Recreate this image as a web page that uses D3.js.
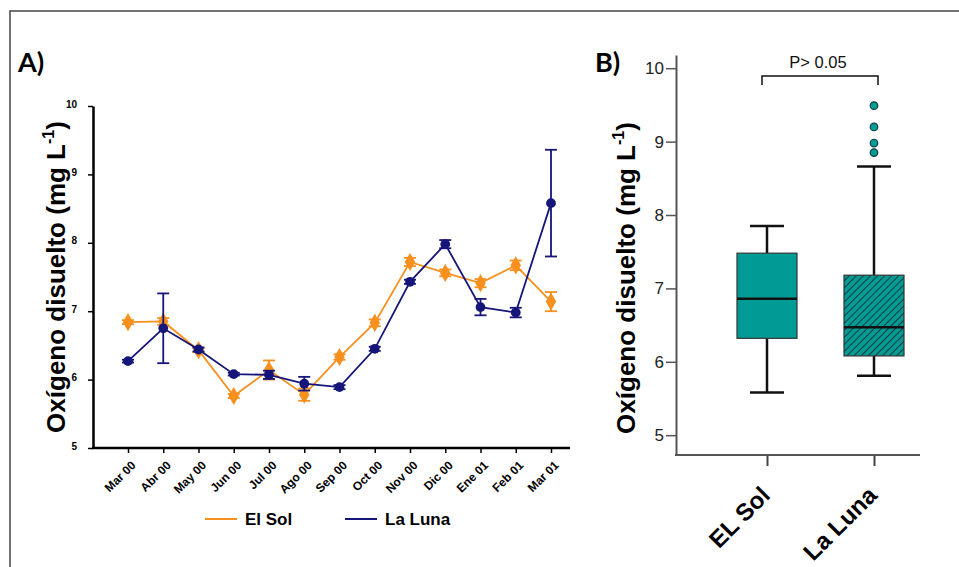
<!DOCTYPE html>
<html>
  <head>
    <meta charset="utf-8">
    <title>Oxígeno disuelto</title>
    <script src="https://d3js.org/d3.v7.min.js"></script>
    <style>
      body { margin: 0; background: #fff; }
      text { font-family: "Liberation Sans", Arial, sans-serif; }
    </style>
  </head>
  <body>
    <script type="text/javascript">
      // panel A data
      var months = ['Mar 00', 'Abr 00', 'May 00', 'Jun 00', 'Jul 00', 'Ago 00', 'Sep 00',
                    'Oct 00', 'Nov 00', 'Dic 00', 'Ene 01', 'Feb 01', 'Mar 01'];
      var solMean = [6.84, 6.85, 6.43, 5.76, 6.14, 5.78, 6.33, 6.83, 7.72, 7.56, 7.41, 7.67, 7.14];
      var solErr  = [0.03, 0.05, 0.03, 0.03, 0.14, 0.09, 0.04, 0.05, 0.06, 0.05, 0.06, 0.07, 0.14];
      var lunaMean = [6.27, 6.75, 6.44, 6.08, 6.07, 5.94, 5.89, 6.45, 7.43, 7.98, 7.06, 6.98, 8.58];
      var lunaErr  = [0.02, 0.51, 0.03, 0.02, 0.06, 0.10, 0.03, 0.03, 0.03, 0.06, 0.12, 0.07, 0.78];
      var yTicksA = [5, 6, 7, 8, 9, 10];

      // panel B data
      var sites = ['EL Sol', 'La Luna'];
      var q1 = [6.32, 6.08];
      var median = [6.86, 6.47];
      var q3 = [7.48, 7.18];
      var whiskLo = [5.58, 5.81];
      var whiskHi = [7.85, 8.66];
      var outliers = [[], [9.49, 9.20, 8.98, 8.85]];
      var yTicksB = [5, 6, 7, 8, 9, 10];

      var orange = '#f7901e', navy = '#15157a', teal = '#009b94';

      var svg = d3.select('body').append('svg')
                  .attr('width', 959)
                  .attr('height', 567);

      // frame
      svg.append('path')
         .attr('d', 'M10,567 V11 H959')
         .attr('fill', 'none')
         .attr('stroke', '#444')
         .attr('stroke-width', 1.5);

      svg.append('text').attr('x', 18).attr('y', 72)
         .style('font-family', 'Lato, sans-serif')
         .attr('font-weight', 'bold').attr('font-size', 27).text('A)');
      svg.append('text').attr('x', 595).attr('y', 72)
         .style('font-family', 'Lato, sans-serif')
         .attr('font-weight', 'bold').attr('font-size', 27).text('B)');

      function yTitle(g, x, y) {
        g.append('text')
          .attr('transform', 'translate(' + x + ',' + y + ') rotate(-90)')
          .attr('text-anchor', 'middle')
          .attr('font-weight', 'bold').attr('font-size', 26)
          .call(function (t) {
            t.append('tspan').text('Oxígeno disuelto (mg L');
            t.append('tspan').attr('dy', -11).attr('font-size', 16).text('-1');
            t.append('tspan').attr('dy', 11).text(')');
          });
      }

      // ---------- panel A ----------
      var xA = d3.scalePoint().domain(months).range([128, 551]);
      var yA = d3.scaleLinear().domain([5, 10]).range([448, 106]);

      var gA = svg.append('g');

      var yAxA = gA.append('g')
         .attr('transform', 'translate(93,0)')
         .call(d3.axisLeft(yA).tickValues(yTicksA).tickFormat(d3.format('d'))
                 .tickSize(5).tickSizeOuter(0));
      yAxA.select('.domain').attr('stroke-width', 2.5);
      yAxA.selectAll('.tick line').attr('stroke-width', 1.5);
      yAxA.selectAll('.tick text').attr('font-weight', 'bold').attr('font-size', 10)
          .attr('x', -16).attr('dy', '0.1em');

      var xAxA = gA.append('g')
         .attr('transform', 'translate(0,448)')
         .call(d3.axisBottom(xA).tickSize(5).tickSizeOuter(0));
      xAxA.select('.domain').remove();
      xAxA.selectAll('.tick line').attr('stroke-width', 1.5);
      xAxA.selectAll('.tick text')
          .attr('font-weight', 'bold').attr('font-size', 12)
          .attr('x', 0).attr('y', 0).attr('dy', '0.35em')
          .attr('text-anchor', 'end')
          .attr('transform', 'translate(5,15) rotate(-45)');
      gA.append('line')
        .attr('x1', 92).attr('x2', 570)
        .attr('y1', 448).attr('y2', 448)
        .attr('stroke', '#000').attr('stroke-width', 2.5);

      function drawSeries(means, errs, color, symbol, size) {
        var pts = means.map(function (m, i) { return { m: m, e: errs[i], k: months[i] }; });
        var line = d3.line()
                     .x(function (d) { return xA(d.k); })
                     .y(function (d) { return yA(d.m); });
        gA.append('path').datum(pts)
          .attr('d', line).attr('fill', 'none')
          .attr('stroke', color).attr('stroke-width', 1.8);
        var eb = gA.append('g').selectAll('g').data(pts).enter().append('g')
                   .attr('stroke', color).attr('stroke-width', 1.8);
        eb.append('line')
          .attr('x1', function (d) { return xA(d.k); })
          .attr('x2', function (d) { return xA(d.k); })
          .attr('y1', function (d) { return yA(d.m - d.e); })
          .attr('y2', function (d) { return yA(d.m + d.e); });
        [-1, 1].forEach(function (s) {
          eb.append('line')
            .attr('x1', function (d) { return xA(d.k) - 6; })
            .attr('x2', function (d) { return xA(d.k) + 6; })
            .attr('y1', function (d) { return yA(d.m + s * d.e); })
            .attr('y2', function (d) { return yA(d.m + s * d.e); });
        });
        gA.append('g').selectAll('path').data(pts).enter().append('path')
          .attr('d', d3.symbol().type(symbol).size(size))
          .attr('transform', function (d) { return 'translate(' + xA(d.k) + ',' + yA(d.m) + ')'; })
          .attr('fill', color);
      }
      drawSeries(solMean, solErr, orange, d3.symbolDiamond, 95);
      drawSeries(lunaMean, lunaErr, navy, d3.symbolCircle, 75);

      yTitle(gA, 65, 277);

      // legend
      var leg = [{ name: 'El Sol', color: orange, x: 205 }, { name: 'La Luna', color: navy, x: 345 }];
      leg.forEach(function (l) {
        gA.append('line').attr('x1', l.x).attr('x2', l.x + 32)
          .attr('y1', 519).attr('y2', 519)
          .attr('stroke', l.color).attr('stroke-width', 2);
        gA.append('text').attr('x', l.x + 40).attr('y', 525)
          .attr('font-weight', 'bold').attr('font-size', 17).text(l.name);
      });

      // ---------- panel B ----------
      var defs = svg.append('defs');
      var pat = defs.append('pattern')
         .attr('id', 'hatch').attr('patternUnits', 'userSpaceOnUse')
         .attr('width', 5).attr('height', 5)
         .attr('patternTransform', 'rotate(45)');
      pat.append('rect').attr('width', 5).attr('height', 5).attr('fill', teal);
      pat.append('line').attr('x1', 0).attr('x2', 0).attr('y1', 0).attr('y2', 5)
         .attr('stroke', '#0d3b3a').attr('stroke-width', 2);

      var xB = d3.scalePoint().domain(sites).range([767, 874]);
      var yB = d3.scaleLinear().domain([4.73, 10.18]).range([455, 55]);
      var gB = svg.append('g');

      var yAxB = gB.append('g')
         .attr('transform', 'translate(676,0)')
         .call(d3.axisLeft(yB).tickValues(yTicksB).tickFormat(d3.format('d'))
                 .tickSize(10).tickSizeOuter(0));
      yAxB.select('.domain').attr('stroke', '#555').attr('stroke-width', 2);
      yAxB.selectAll('.tick line').attr('stroke', '#555').attr('stroke-width', 1.5);
      yAxB.selectAll('.tick text').attr('font-size', 17).attr('fill', '#222').attr('x', -12);

      var xAxB = gB.append('g')
         .attr('transform', 'translate(0,455)')
         .call(d3.axisBottom(xB).tickSize(11).tickSizeOuter(0));
      xAxB.select('.domain').remove();
      xAxB.selectAll('.tick line').attr('stroke', '#444').attr('stroke-width', 2);
      xAxB.selectAll('.tick text')
          .attr('font-weight', 'bold').attr('font-size', 24).attr('fill', '#000')
          .attr('x', 0).attr('y', 0).attr('dy', '0.7em')
          .attr('text-anchor', 'end')
          .attr('transform', 'translate(-8,30) rotate(-45)');
      gB.append('line')
        .attr('x1', 675).attr('x2', 920)
        .attr('y1', 455).attr('y2', 455)
        .attr('stroke', '#555').attr('stroke-width', 2);

      var boxes = sites.map(function (s, i) {
        return { s: s, q1: q1[i], med: median[i], q3: q3[i], lo: whiskLo[i], hi: whiskHi[i],
                 fill: i === 0 ? teal : 'url(#hatch)' };
      });
      var bw = 60, cw = 34;
      var bg = gB.selectAll('g.box').data(boxes).enter().append('g').attr('class', 'box');
      bg.append('line')
        .attr('x1', function (d) { return xB(d.s); }).attr('x2', function (d) { return xB(d.s); })
        .attr('y1', function (d) { return yB(d.hi); }).attr('y2', function (d) { return yB(d.q3); })
        .attr('stroke', '#111').attr('stroke-width', 2.5);
      bg.append('line')
        .attr('x1', function (d) { return xB(d.s); }).attr('x2', function (d) { return xB(d.s); })
        .attr('y1', function (d) { return yB(d.q1); }).attr('y2', function (d) { return yB(d.lo); })
        .attr('stroke', '#111').attr('stroke-width', 2.5);
      ['hi', 'lo'].forEach(function (k) {
        bg.append('line')
          .attr('x1', function (d) { return xB(d.s) - cw / 2; }).attr('x2', function (d) { return xB(d.s) + cw / 2; })
          .attr('y1', function (d) { return yB(d[k]); }).attr('y2', function (d) { return yB(d[k]); })
          .attr('stroke', '#111').attr('stroke-width', 2.5);
      });
      bg.append('rect')
        .attr('x', function (d) { return xB(d.s) - bw / 2; })
        .attr('width', bw)
        .attr('y', function (d) { return yB(d.q3); })
        .attr('height', function (d) { return yB(d.q1) - yB(d.q3); })
        .attr('fill', function (d) { return d.fill; })
        .attr('stroke', '#333').attr('stroke-width', 1.2);
      bg.append('line')
        .attr('x1', function (d) { return xB(d.s) - bw / 2; }).attr('x2', function (d) { return xB(d.s) + bw / 2; })
        .attr('y1', function (d) { return yB(d.med); }).attr('y2', function (d) { return yB(d.med); })
        .attr('stroke', '#111').attr('stroke-width', 2.5);

      sites.forEach(function (s, i) {
        gB.append('g').selectAll('circle').data(outliers[i]).enter().append('circle')
          .attr('cx', xB(s)).attr('cy', function (d) { return yB(d); })
          .attr('r', 3.8).attr('fill', teal)
          .attr('stroke', '#124040').attr('stroke-width', 1.2);
      });

      // significance bracket
      gB.append('path')
        .attr('d', 'M' + (xB('EL Sol') - 5) + ',' + 85 + ' V76 H' + (xB('La Luna') + 4) + ' V85')
        .attr('fill', 'none').attr('stroke', '#111').attr('stroke-width', 1.5);
      gB.append('text').attr('x', 818).attr('y', 68)
        .attr('text-anchor', 'middle').attr('font-size', 16.5).attr('fill', '#111')
        .text('P> 0.05');

      yTitle(gB, 635, 278);
    </script>
  </body>
</html>
